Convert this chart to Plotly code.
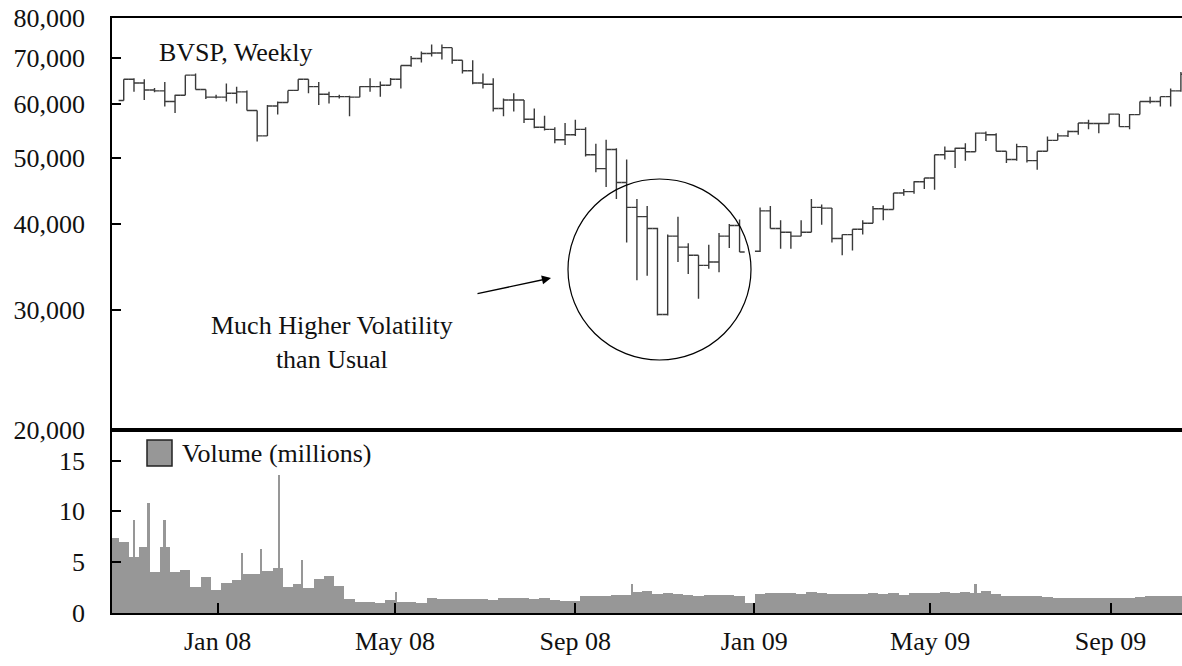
import plotly.graph_objects as go
import pandas as pd

# BVSP weekly bars (index points, thousands), one per Monday from 29 Oct 2007.
# The week of 29 Dec 2008 has no bar.
bar_dates = pd.date_range("2007-10-29", periods=105, freq="7D").delete(61)[:103]

opens = [60.6, 65.1, 64.3, 62.8, 62.6, 60.4, 61.7, 66.0, 62.9, 61.3,
         61.3, 62.1, 62.4, 58.6, 53.8, 59.5, 60.2, 62.7, 65.1, 63.5,
         61.9, 61.4, 61.4, 61.3, 63.5, 63.5, 63.8, 65.1, 68.2, 69.8,
         71.0, 71.1, 72.4, 69.4, 67.0, 64.3, 64.0, 59.0, 60.7, 60.7,
         56.9, 55.4, 55.0, 53.1, 54.0, 55.0, 50.5, 48.2, 51.4, 46.0,
         42.3, 41.0, 39.4, 29.5, 38.4, 37.0, 36.0, 34.8, 35.2, 38.4,
         39.8,
         36.5, 41.8, 39.4, 38.9, 38.4, 38.9, 42.3, 42.2, 38.1, 38.6,
         39.3, 40.1, 42.1, 42.0, 44.4, 44.6, 46.1, 46.7, 50.5, 51.1,
         51.6, 51.0, 54.3, 54.0, 51.1, 49.7, 51.9, 49.5, 51.1, 53.0,
         53.8, 54.6, 56.2, 56.1, 56.1, 57.9, 55.5, 57.8, 60.4, 60.4,
         61.4, 62.6]
highs = [65.1, 65.3, 65.1, 63.2, 64.5, 61.8, 66.0, 66.4, 62.9, 61.8,
         64.2, 63.5, 62.7, 58.6, 59.7, 60.4, 62.7, 65.1, 65.1, 64.5,
         62.4, 61.8, 61.6, 63.6, 65.3, 64.6, 65.4, 68.2, 70.4, 71.5,
         73.2, 73.2, 72.4, 69.4, 69.4, 66.4, 65.3, 61.0, 62.1, 60.7,
         59.0, 57.6, 55.4, 56.2, 56.8, 55.4, 52.4, 53.1, 51.6, 49.7,
         43.5, 42.5, 39.5, 38.6, 41.0, 37.5, 36.0, 37.3, 38.8, 40.0,
         40.6,
         42.3, 42.5, 40.5, 39.0, 40.5, 43.5, 42.7, 42.2, 38.6, 39.3,
         40.5, 42.5, 42.6, 44.4, 45.0, 46.2, 46.7, 50.5, 51.9, 51.7,
         52.5, 54.4, 54.6, 54.3, 51.1, 52.4, 51.9, 51.1, 53.7, 54.3,
         54.8, 56.2, 56.8, 56.2, 58.0, 57.9, 57.9, 60.4, 61.4, 61.4,
         63.1, 66.7]
lows = [60.6, 62.4, 60.7, 62.3, 59.4, 58.1, 61.7, 62.9, 60.9, 61.0,
        60.4, 60.0, 58.6, 52.8, 53.8, 57.8, 60.2, 62.7, 62.1, 59.7,
        60.0, 61.0, 57.5, 61.3, 62.4, 61.4, 63.8, 63.1, 67.9, 68.9,
        70.3, 69.6, 68.6, 66.4, 64.0, 63.1, 58.4, 57.5, 58.4, 56.2,
        55.2, 54.8, 52.5, 52.2, 53.8, 50.2, 47.6, 45.3, 43.5, 37.6,
        33.1, 33.6, 29.4, 29.4, 35.2, 33.8, 31.1, 34.4, 34.0, 36.9,
        36.4,
        36.4, 39.4, 36.8, 36.8, 38.4, 38.9, 39.9, 37.6, 36.0, 36.6,
        38.6, 40.1, 40.5, 42.0, 44.0, 44.3, 45.0, 44.9, 49.7, 48.3,
        49.5, 51.0, 52.9, 51.1, 49.1, 49.5, 49.2, 48.0, 51.1, 53.0,
        53.6, 54.0, 55.0, 54.3, 56.1, 55.5, 55.0, 57.8, 60.0, 59.4,
        59.4, 62.4]
closes = [65.1, 64.3, 62.8, 62.6, 60.4, 61.7, 66.0, 62.9, 61.3, 61.3,
          62.1, 62.4, 58.6, 53.8, 59.5, 60.2, 62.7, 65.1, 63.5, 61.9,
          61.4, 61.4, 61.3, 63.5, 63.5, 63.8, 65.1, 68.2, 69.8, 71.0,
          71.1, 72.4, 69.4, 67.0, 64.3, 64.0, 59.0, 60.7, 60.7, 56.9,
          55.4, 55.0, 53.1, 54.0, 55.0, 50.5, 48.2, 51.4, 46.0, 42.3,
          41.0, 39.4, 29.5, 38.4, 37.0, 36.0, 34.8, 35.2, 38.4, 39.8,
          36.4,
          41.8, 39.4, 38.9, 38.4, 38.9, 42.3, 42.2, 38.1, 38.6, 39.3,
          40.1, 42.1, 42.0, 44.4, 44.6, 46.1, 46.7, 50.5, 51.1, 51.6,
          51.0, 54.3, 54.0, 51.1, 49.7, 51.9, 49.5, 51.1, 53.0, 53.8,
          54.6, 56.2, 56.1, 56.1, 57.9, 55.5, 57.8, 60.4, 60.4, 61.4,
          62.6, 66.2]

# weekly volume (millions), weeks starting 22 Oct 2007
vol_dates = pd.date_range("2007-10-22", periods=105, freq="7D")
volumes = [7.4, 7.0, 5.5, 6.5, 4.0, 6.5, 4.0, 4.2, 2.6, 3.5,
           2.3, 3.0, 3.2, 3.8, 3.8, 4.1, 4.4, 2.6, 2.9, 2.5,
           3.3, 3.6, 2.7, 1.4, 1.1, 1.1, 1.0, 1.3, 1.1, 1.1,
           1.0, 1.5, 1.4, 1.4, 1.4, 1.4, 1.4, 1.3, 1.5, 1.5,
           1.5, 1.4, 1.5, 1.3, 1.2, 1.2, 1.7, 1.7, 1.7, 1.8,
           1.8, 2.1, 2.2, 1.9, 2.0, 1.9, 1.8, 1.7, 1.8, 1.8,
           1.8, 1.7, 1.0, 1.9, 2.0, 2.0, 2.0, 1.9, 2.1, 2.0,
           1.9, 1.9, 1.9, 1.9, 2.0, 1.9, 2.0, 1.8, 2.0, 2.0,
           2.0, 2.1, 2.0, 2.1, 2.0, 2.2, 1.9, 1.7, 1.7, 1.7,
           1.7, 1.6, 1.5, 1.5, 1.5, 1.5, 1.5, 1.5, 1.5, 1.5,
           1.6, 1.7, 1.7, 1.7, 1.7]

# single-day volume spikes
spike_dates = ["2007-11-05", "2007-11-15", "2007-11-26", "2008-01-18", "2008-01-31",
               "2008-02-12", "2008-02-28", "2008-05-02", "2008-10-10", "2009-06-01"]
spike_vols = [9.1, 10.8, 9.1, 5.9, 6.3, 13.6, 5.2, 2.1, 2.9, 2.9]

price_ticks = [20, 30, 40, 50, 60, 70, 80]
price_labels = ["20,000", "30,000", "40,000", "50,000", "60,000", "70,000", "80,000"]
vol_ticks = [0, 5, 10, 15]

FONT = "Liberation Serif"
INK = "#111111"
DAY_MS = 86400000

# plot area in pixels (used to place shapes / notes)
L, R, T, B = 112, 1182, 18, 613
SPLIT = 430  # pixel row where the two panels meet


def px(x):
    return (x - L) / (R - L)


def py(y):
    return (B - y) / (B - T)


split = py(SPLIT)

fig = go.Figure()

fig.add_trace(go.Bar(
    x=vol_dates, y=volumes, width=7 * DAY_MS,
    marker=dict(color="#979797", line=dict(width=0)),
    xaxis="x", yaxis="y", showlegend=False, hoverinfo="skip"
))
fig.add_trace(go.Bar(
    x=pd.to_datetime(spike_dates), y=spike_vols, width=1.2 * DAY_MS,
    marker=dict(color="#979797", line=dict(width=0)),
    xaxis="x", yaxis="y", showlegend=False, hoverinfo="skip"
))

fig.add_trace(go.Ohlc(
    x=bar_dates, open=opens, high=highs, low=lows, close=closes,
    increasing=dict(line=dict(color="#3a3a3a", width=1.4)),
    decreasing=dict(line=dict(color="#3a3a3a", width=1.4)),
    tickwidth=0.5, xaxis="x2", yaxis="y2", showlegend=False, hoverinfo="skip"
))

tick_font = dict(family=FONT, size=26, color=INK)

fig.update_layout(
    width=1182, height=666, autosize=False,
    margin=dict(l=L, r=1182 - R, t=T, b=666 - B, pad=0),
    paper_bgcolor="white", plot_bgcolor="white",
    barmode="overlay", bargap=0,
    xaxis=dict(
        domain=[0, 1], anchor="y", type="date", automargin=False,
        range=["2007-10-21", "2009-10-19 18:00"],
        tick0="2008-01-01", dtick="M4", tickformat="%b %y",
        ticks="inside", ticklen=10, tickwidth=1.5, tickcolor="black",
        showline=True, linecolor="black", linewidth=1.5,
        showgrid=False, zeroline=False,
        tickfont=tick_font, ticklabelstandoff=4,
    ),
    yaxis=dict(
        domain=[0, split], anchor="x", range=[0, 18], automargin=False,
        tickvals=vol_ticks,
        ticks="inside", ticklen=9, tickwidth=1.5, tickcolor="black",
        showline=True, linecolor="black", linewidth=1.5,
        showgrid=False, zeroline=False,
        tickfont=tick_font, ticklabelstandoff=20,
    ),
    xaxis2=dict(
        anchor="y2", matches="x", type="date", side="top", automargin=False,
        showticklabels=False, ticks="",
        showline=True, linecolor="black", linewidth=1.5,
        showgrid=False, zeroline=False,
        rangeslider=dict(visible=False),
    ),
    yaxis2=dict(
        domain=[split, 1], anchor="x2", type="log", automargin=False,
        range=[1.30103, 1.90309],
        tickvals=price_ticks, ticktext=price_labels,
        ticks="inside", ticklen=9, tickwidth=1.5, tickcolor="black",
        showline=True, linecolor="black", linewidth=1.5,
        showgrid=False, zeroline=False,
        tickfont=tick_font, ticklabelstandoff=20,
    ),
    shapes=[
        # heavy rule between the price and volume panels
        dict(type="line", xref="paper", yref="paper", x0=0, x1=1, y0=split, y1=split,
             line=dict(color="black", width=4)),
        # circle round the volatile weeks
        dict(type="circle", xref="paper", yref="paper",
             x0=px(568), x1=px(751), y0=py(360), y1=py(179),
             line=dict(color="black", width=1.2)),
        # legend swatch
        dict(type="rect", xref="paper", yref="paper",
             x0=px(147), x1=px(172), y0=py(466), y1=py(440),
             fillcolor="#979797", line=dict(color="#222222", width=1.5)),
    ],
    annotations=[
        dict(xref="paper", yref="paper", x=px(157), y=py(52), xanchor="left", yanchor="middle",
             text="BVSP, Weekly", showarrow=False, font=dict(family=FONT, size=26, color=INK)),
        dict(xref="paper", yref="paper", x=px(332), y=py(342), xanchor="center", yanchor="middle",
             text="Much Higher Volatility<br>than Usual", align="center", showarrow=False,
             font=dict(family=FONT, size=26, color=INK)),
        dict(xref="paper", yref="paper", x=px(551), y=py(278), ax=-75, ay=16,
             text="", showarrow=True, arrowhead=2, arrowsize=1.4, arrowwidth=1.3,
             arrowcolor="black"),
        dict(xref="paper", yref="paper", x=px(180), y=py(453), xanchor="left", yanchor="middle",
             text="Volume (millions)", showarrow=False, font=dict(family=FONT, size=26, color=INK)),
    ],
)

# drop the browser's default page margin so the figure sits at the window's corner
fig.write_html("out.html", config={"displayModeBar": False},
               post_script="document.body.style.margin='0';")
